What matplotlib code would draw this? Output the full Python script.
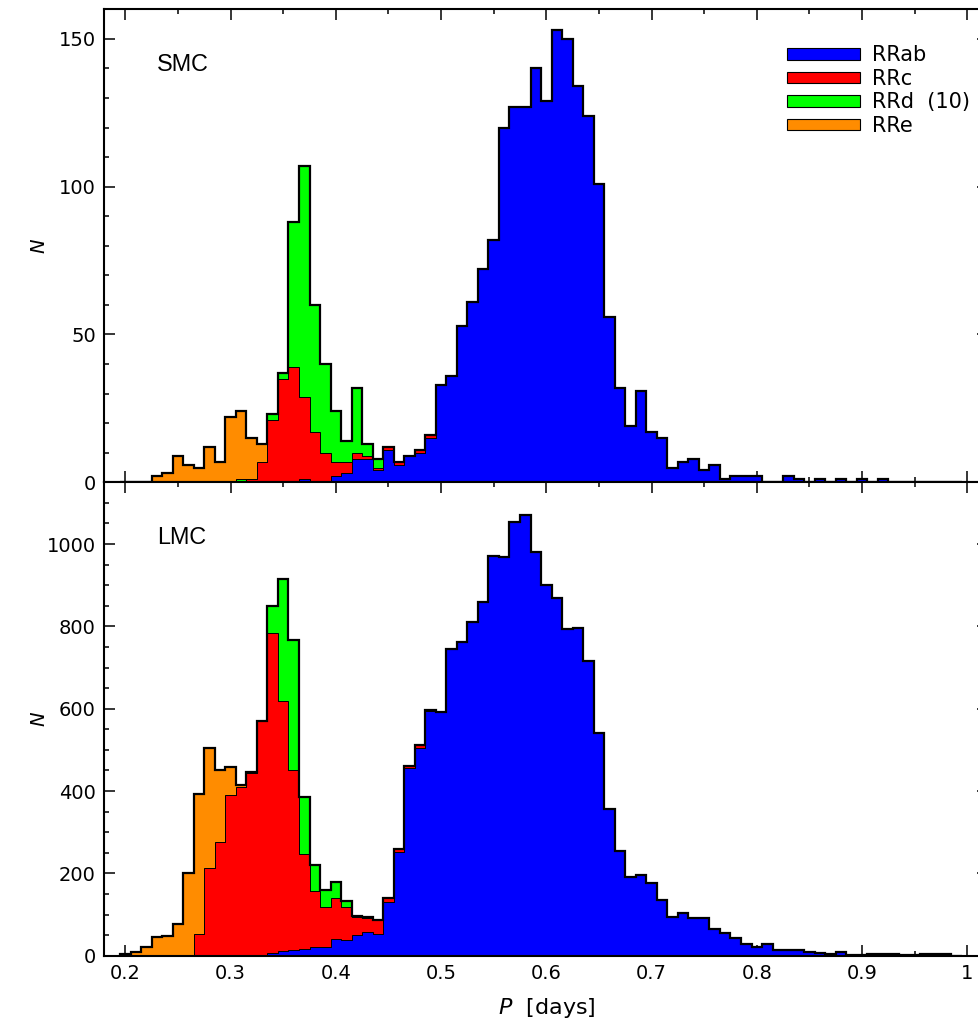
import numpy as np
import matplotlib
matplotlib.use("Agg")
import matplotlib.pyplot as plt
from matplotlib.patches import Patch
from matplotlib.ticker import MultipleLocator, FuncFormatter

# ---------------- data (bins of 0.01 d, centres 0.20 ... 0.99) ----------------
bin_first_centre = 0.20
bin_width = 0.01

smc_rrab = [0, 0, 0, 0, 0, 0, 0, 0, 0, 0,
            0, 0, 0, 0, 0, 0, 0, 1, 0, 0,
            2, 3, 8, 8, 4, 11, 6, 9, 10, 15,
            33, 36, 53, 61, 72, 82, 120, 127, 127, 140,
            129, 153, 150, 134, 124, 101, 56, 32, 19, 31,
            17, 15, 5, 7, 8, 4, 6, 1, 2, 2,
            2, 0, 0, 2, 1, 0, 1, 0, 1, 0,
            1, 0, 1, 0, 0, 0, 0, 0, 0, 0]
smc_rrc = [0, 0, 0, 0, 0, 0, 0, 0, 0, 0,
           0, 0, 1, 7, 21, 35, 39, 28, 17, 10,
           5, 4, 2, 1, 1, 1, 1, 0, 1, 1] + [0] * 50
smc_rrd = [0, 0, 0, 0, 0, 0, 0, 0, 0, 0,
           0, 1, 0, 0, 2, 2, 49, 78, 43, 30,
           17, 7, 22, 4, 3, 0, 0, 0, 0, 0] + [0] * 50
smc_rre = [0, 0, 0, 2, 3, 9, 6, 5, 12, 7,
           22, 23, 14, 6, 0, 0, 0, 0, 0, 0] + [0] * 60

lmc_rrab = [0, 0, 0, 0, 0, 0, 0, 0, 0, 0,
            0, 0, 0, 2, 7, 12, 15, 17, 20, 20,
            41, 37, 50, 58, 53, 130, 253, 457, 505, 595,
            593, 745, 762, 811, 859, 970, 968, 1054, 1070, 981,
            901, 868, 794, 795, 715, 541, 357, 254, 190, 196,
            176, 135, 95, 104, 92, 91, 64, 54, 44, 28,
            22, 28, 14, 15, 14, 8, 6, 4, 9, 2,
            2, 3, 4, 4, 2, 1, 3, 5, 3, 0]
lmc_rrc = [0, 0, 0, 0, 0, 0, 0, 53, 212, 276,
           391, 410, 444, 569, 778, 607, 435, 229, 138, 99,
           100, 82, 43, 33, 34, 11, 6, 3, 6, 2] + [0] * 50
lmc_rrd = [0, 0, 0, 0, 0, 0, 0, 0, 0, 0,
           0, 0, 0, 0, 64, 297, 316, 139, 62, 41,
           39, 15, 4, 2, 0, 0, 0, 0, 0, 0] + [0] * 50
lmc_rre = [3, 10, 20, 46, 47, 76, 200, 340, 293, 175,
           68, 4, 2, 0, 0, 0, 0, 0, 0, 0] + [0] * 60

class_labels = ["RRab", "RRc", "RRd  (10)", "RRe"]
class_colors = ["#0000ff", "#ff0000", "#00ff00", "#ff8c00"]
panel_names = ["SMC", "LMC"]

x_tick_values = [0.2, 0.3, 0.4, 0.5, 0.6, 0.7, 0.8, 0.9, 1.0]

# ---------------- figure ----------------
plt.rcParams["font.family"] = ["DejaVu Sans"]
fig = plt.figure(figsize=(9.79, 10.23), dpi=100)

W, H = 979.0, 1023.0
left_px, width_px = 104.3, 884.0
ax_smc = fig.add_axes([left_px / W, (H - 482.3) / H, width_px / W, 473.0 / H])
ax_lmc = fig.add_axes([left_px / W, (H - 955.7) / H, width_px / W, 473.4 / H])

n = len(smc_rrab)
edges = bin_first_centre - bin_width / 2 + bin_width * np.arange(n + 1)


def draw_panel(ax, layers, ymax, major, minor, name, legend=False):
    base = np.zeros(n)
    for vals, col in zip(layers, class_colors):
        vals = np.asarray(vals, float)
        ax.stairs(base + vals, edges, baseline=base.copy(), fill=True,
                  facecolor=col, edgecolor="black", linewidth=0.7, zorder=2)
        base = base + vals
    ax.stairs(base, edges, baseline=0, fill=False, color="black",
              linewidth=1.6, zorder=3)
    ax.set_xlim(0.18, 1.02)
    ax.set_ylim(0, ymax)
    ax.xaxis.set_major_locator(MultipleLocator(0.1))
    ax.xaxis.set_minor_locator(MultipleLocator(0.05))
    ax.yaxis.set_major_locator(MultipleLocator(major))
    ax.yaxis.set_minor_locator(MultipleLocator(minor))
    ax.tick_params(which="both", direction="in", top=True, right=True,
                   width=1.1, labelsize=14, pad=6)
    ax.tick_params(which="major", length=7.7)
    ax.tick_params(which="minor", length=3.8)
    for s in ax.spines.values():
        s.set_linewidth(1.5)
    ax.set_ylabel("N", style="italic", fontsize=14)
    ax.yaxis.set_label_coords(-0.063, 0.5)
    ax.text(0.060, 0.870, name, transform=ax.transAxes, fontsize=16.8,
            family="Liberation Sans", ha="left", va="baseline")
    if legend:
        handles = [Patch(facecolor=c, edgecolor="black", linewidth=0.8)
                   for c in class_colors]
        ax.legend(handles, class_labels, loc="upper left",
                  bbox_to_anchor=(0.7722, 0.9240), frameon=False,
                  fontsize=15, handlelength=3.5, handleheight=0.48,
                  handletextpad=0.58, labelspacing=0.17, borderpad=0,
                  borderaxespad=0)


draw_panel(ax_smc, [smc_rrab, smc_rrc, smc_rrd, smc_rre], 160, 50, 10,
           panel_names[0], legend=True)
draw_panel(ax_lmc, [lmc_rrab, lmc_rrc, lmc_rrd, lmc_rre], 1150, 200, 50,
           panel_names[1])

ax_smc.set_xticks(x_tick_values)
ax_smc.tick_params(labelbottom=False)
ax_lmc.set_xticks(x_tick_values)
ax_lmc.xaxis.set_major_formatter(FuncFormatter(lambda v, p: "%g" % round(v, 2)))
ax_lmc.set_xlabel(r"$P$  [days]", fontsize=16, labelpad=9)

fig.savefig("out.png", dpi=100)
